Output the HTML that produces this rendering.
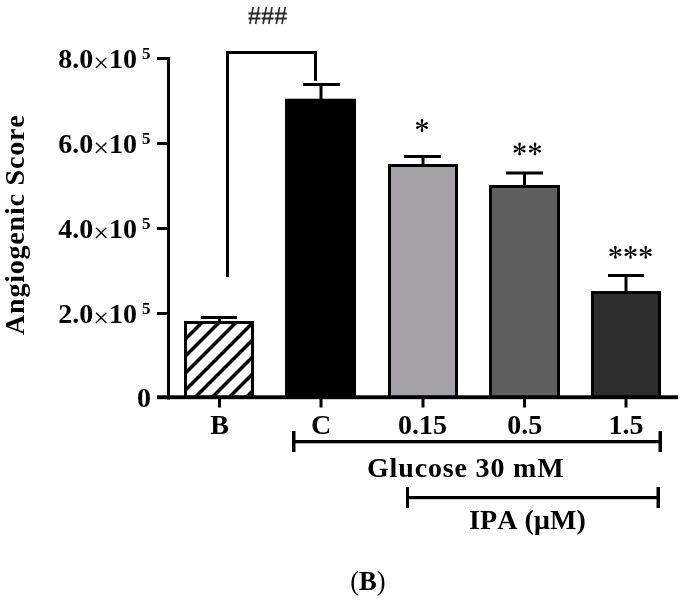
<!DOCTYPE html>
<html><head><meta charset="utf-8">
<style>
html,body{margin:0;padding:0;background:#fff;}
body{width:681px;height:603px;overflow:hidden;}
svg{display:block;will-change:transform;}
text{font-kerning:none;}
.b{font-family:"Liberation Serif",serif;font-weight:bold;fill:#000;}
.r{font-family:"Liberation Serif",serif;font-weight:normal;fill:#000;}
</style></head>
<body>
<svg width="681" height="603" viewBox="0 0 681 603">
<defs>
<clipPath id="cb"><rect x="187" y="324" width="64" height="73"/></clipPath>
<path id="ast" d="M0.30 0.00L1.30 -5.10A1.30 1.30 0 1 0 -1.30 -5.10L-0.30 -0.00ZM-0.30 -0.00L-1.30 5.10A1.30 1.30 0 1 0 1.30 5.10L0.30 0.00ZM0.13 0.27L5.17 -0.98A1.30 1.30 0 1 0 4.07 -3.33L-0.13 -0.27ZM0.13 -0.27L-4.07 -3.33A1.30 1.30 0 1 0 -5.17 -0.98L-0.13 0.27ZM-0.13 -0.27L-5.17 0.98A1.30 1.30 0 1 0 -4.07 3.33L0.13 0.27ZM-0.13 0.27L4.07 3.33A1.30 1.30 0 1 0 5.17 0.98L0.13 -0.27Z"/>
</defs>
<!-- hatched bar B -->
<g clip-path="url(#cb)" stroke="#000" stroke-width="3.5">
<line x1="100" y1="424.5" x2="300" y2="224.5"/>
<line x1="100" y1="441.5" x2="300" y2="241.5"/>
<line x1="100" y1="458.5" x2="300" y2="258.5"/>
<line x1="100" y1="475.5" x2="300" y2="275.5"/>
<line x1="100" y1="492.5" x2="300" y2="292.5"/>
<line x1="100" y1="509.5" x2="300" y2="309.5"/>
<line x1="100" y1="526.5" x2="300" y2="326.5"/>
<line x1="100" y1="543.5" x2="300" y2="343.5"/>
<line x1="100" y1="560.5" x2="300" y2="360.5"/>
</g>
<rect x="185.5" y="322.5" width="67" height="74.8" fill="none" stroke="#000" stroke-width="3"/>
<!-- bar C -->
<rect x="285" y="98.7" width="71" height="298.3" fill="#000"/>
<!-- bar 0.15 -->
<rect x="389.5" y="165.5" width="67" height="231.8" fill="#a3a1a5" stroke="#000" stroke-width="3"/>
<!-- bar 0.5 -->
<rect x="490.5" y="186.5" width="68" height="210.8" fill="#5f5f5f" stroke="#000" stroke-width="3"/>
<!-- bar 1.5 -->
<rect x="592.5" y="292.5" width="67" height="104.8" fill="#2e2e2e" stroke="#000" stroke-width="3"/>

<!-- error bars -->
<g fill="#000">
<rect x="201" y="316" width="36" height="3"/><rect x="218" y="318" width="3" height="4"/>
<rect x="303" y="83" width="37" height="3"/><rect x="319.5" y="85" width="3" height="14"/>
<rect x="404" y="155" width="37" height="3"/><rect x="421.5" y="157" width="3" height="8"/>
<rect x="506" y="171.5" width="37" height="3"/><rect x="523" y="173" width="3" height="13"/>
<rect x="608" y="274" width="36" height="3"/><rect x="624.5" y="276" width="3" height="16"/>
</g>

<!-- axes -->
<g fill="#000">
<rect x="167" y="57" width="3" height="342.5"/>
<rect x="157" y="57" width="13" height="3"/>
<rect x="157" y="142" width="13" height="3"/>
<rect x="157" y="227" width="13" height="3"/>
<rect x="157" y="312" width="13" height="3"/>
<rect x="157" y="395.3" width="521" height="3.9"/>
<rect x="218" y="399" width="3" height="8.5"/>
<rect x="319.5" y="399" width="3" height="8.5"/>
<rect x="421.5" y="399" width="3" height="8.5"/>
<rect x="523" y="399" width="3" height="8.5"/>
<rect x="624.5" y="399" width="3" height="8.5"/>
</g>

<!-- significance bracket -->
<path d="M227.5 277 V52.5 H315.5 V80.7" fill="none" stroke="#000" stroke-width="3"/>
<path d="M253.2 6.8L249.9 24M258.9 6.8L255.6 24M266.4 6.8L263.1 24M272.1 6.8L268.8 24M279.6 6.8L276.3 24M285.3 6.8L282.0 24" stroke="#2a2a2a" stroke-width="1.6" fill="none"/><path d="M248.4 13.4H260.4M248.4 18.6H260.4M261.6 13.4H273.6M261.6 18.6H273.6M274.8 13.4H286.8M274.8 18.6H286.8" stroke="#2a2a2a" stroke-width="2" fill="none"/>

<!-- asterisks -->
<g fill="#000">
<use href="#ast" x="422" y="125.5"/>
<use href="#ast" x="519.6" y="149"/><use href="#ast" x="535" y="149"/>
<use href="#ast" x="615.4" y="252.4"/><use href="#ast" x="630.5" y="252.4"/><use href="#ast" x="645.7" y="252.4"/>
</g>
<!-- y labels -->
<g class="b" font-size="28">
<text x="137" y="68" text-anchor="end">8.0<tspan font-weight="normal" dy="3.5">×</tspan><tspan dy="-3.5">10</tspan></text><text x="142" y="59" font-size="17">5</text>
<text x="137" y="153" text-anchor="end">6.0<tspan font-weight="normal" dy="3.5">×</tspan><tspan dy="-3.5">10</tspan></text><text x="142" y="144" font-size="17">5</text>
<text x="137" y="238" text-anchor="end">4.0<tspan font-weight="normal" dy="3.5">×</tspan><tspan dy="-3.5">10</tspan></text><text x="142" y="229" font-size="17">5</text>
<text x="137" y="323" text-anchor="end">2.0<tspan font-weight="normal" dy="3.5">×</tspan><tspan dy="-3.5">10</tspan></text><text x="142" y="314" font-size="17">5</text>
<text x="151" y="406.7" text-anchor="end">0</text>
</g>

<!-- y title -->
<text class="b" font-size="28" transform="translate(24,335) rotate(-90)" letter-spacing="0.8">Angiogenic Score</text>

<!-- x labels -->
<g class="b" font-size="28" text-anchor="middle">
<text x="219.5" y="434">B</text>
<text x="321" y="434">C</text>
<text x="422.5" y="434">0.15</text>
<text x="524.7" y="434">0.5</text>
<text x="626" y="434">1.5</text>
</g>

<!-- group brackets -->
<g fill="#000">
<rect x="292" y="440" width="369" height="3.3"/>
<rect x="292" y="431" width="3.5" height="21"/>
<rect x="658.5" y="431" width="3.5" height="21"/>
<rect x="406" y="496" width="254" height="3.2"/>
<rect x="406" y="487" width="3" height="21"/>
<rect x="656.5" y="487" width="3.5" height="21"/>
</g>
<text class="b" font-size="28" x="367" y="477" letter-spacing="0.84">Glucose 30 mM</text>
<text class="b" font-size="28" x="469" y="529" letter-spacing="0.1">IPA (μM)</text>
<text class="r" font-size="28" x="368" y="590" text-anchor="middle" transform="translate(368 0) scale(0.95 1) translate(-368 0)">(<tspan font-weight="bold">B</tspan>)</text>
</svg>
</body></html>
